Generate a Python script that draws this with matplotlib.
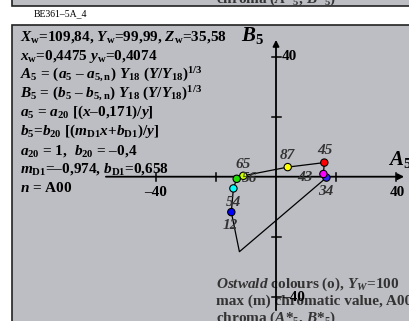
import matplotlib
matplotlib.use('Agg')
import matplotlib.pyplot as plt
from matplotlib.patches import Rectangle

plt.rcParams['font.family'] = 'Liberation Serif'
plt.rcParams['font.weight'] = 'bold'
plt.rcParams['mathtext.fontset'] = 'custom'
plt.rcParams['mathtext.rm'] = 'Liberation Serif:bold'
plt.rcParams['mathtext.it'] = 'Liberation Serif:italic:bold'
plt.rcParams['mathtext.bf'] = 'Liberation Serif:bold'

# hue circle points, A5 / B5 values
pt_a = [16.1, 3.9, -10.9, -13.1, -14.2, -14.9, 16.8, 15.8]
pt_b = [4.7, 3.2, 0.3, -0.7, -3.9, -11.8, -0.3, 0.9]
pt_col = ['#ff0000', '#ffff00', '#ccff00', '#22dd00', '#00ffff', '#0000ff', '#3322ee', '#ff00ff']

# outline through the points (incl. corner without marker)
line_a = [16.1, 3.9, -10.9, -13.1, -14.2, -14.9, -12.2, 16.8, 15.8, 16.1]
line_b = [4.7, 3.2, 0.3, -0.7, -3.9, -11.8, -25.0, -0.3, 0.9, 4.7]

lab_txt = ['45', '87', '65', '56', '43', '34', '54', '12']
lab_a = [16.3, 3.9, -10.9, -8.7, 9.7, 16.7, -14.2, -15.3]
lab_b = [8.7, 7.2, 4.2, -0.7, -0.4, -5.0, -8.7, -16.4]

ticks = [-40, -20, 20, 40]

info_lines = [
    r'$X_{\rm w}$=109,84, $Y_{\rm w}$=99,99, $Z_{\rm w}$=35,58',
    r'$x_{\rm w}$=0,4475 $y_{\rm w}$=0,4074',
    r'$A_5$ = ($a_5$ – $a_{5,\rm n}$) $Y_{18}$ ($Y$/$Y_{18})^{1/3}$',
    r'$B_5$ = ($b_5$ – $b_{5,\rm n}$) $Y_{18}$ ($Y$/$Y_{18})^{1/3}$',
    r'$a_5$ = $a_{20}$ [($x$–0,171)/$y$]',
    r'$b_5$=$b_{20}$ [($m_{\rm D1}x$+$b_{\rm D1}$)/$y$]',
    r'$a_{20}$ = 1,  $b_{20}$ = –0,4',
    r'$m_{\rm D1}$=–0,974, $b_{\rm D1}$=0,658',
    r'$n$ = A00',
]
foot_lines = [
    r'$Ostwald$ colours (o), $Y_W$=100',
    'max (m) chromatic value, A00',
    r'chroma ($A$*$_5$, $B$*$_5$)',
]

bg = '#bdbec3'
fs = 11
fig = plt.figure(figsize=(4.09, 3.21), dpi=100)
fig.patch.set_facecolor('white')

# page layer in pixel coordinates
pg = fig.add_axes([0, 0, 1, 1])
pg.set_xlim(0, 409)
pg.set_ylim(321, 0)
pg.axis('off')
pg.add_patch(Rectangle((12, -20), 420, 26, facecolor=bg, edgecolor='#222222', lw=1.2))
pg.add_patch(Rectangle((12, 25), 420, 320, facecolor=bg, edgecolor='#222222', lw=1.2))
pg.text(216, 2.5, foot_lines[2], fontsize=fs, color='#333333', va='baseline')
pg.text(60, 16.5, 'BE361–5A_4', fontsize=7, fontweight='normal', ha='center', va='baseline')
for i, s in enumerate(info_lines):
    pg.text(20, 40.7 + i * 18.9, s, fontsize=fs, va='baseline')

# chart layer in A5/B5 units
ax = fig.add_axes([0, 0, 1, 1])
ax.set_xlim(-92, 44.33)
ax.set_ylim(-48.1, 58.9)
ax.axis('off')
ax.patch.set_alpha(0)

ax.annotate('', xy=(42.7, 0), xytext=(-56.7, 0),
            arrowprops=dict(arrowstyle='-|>', lw=1.3, color='black', mutation_scale=9, shrinkA=0, shrinkB=0))
ax.annotate('', xy=(0, 45.6), xytext=(0, -44.5),
            arrowprops=dict(arrowstyle='-|>', lw=1.3, color='black', mutation_scale=9, shrinkA=0, shrinkB=0))
for t in ticks:
    ax.plot([t, t], [-1.4, 1.4], color='black', lw=1.1)
    ax.plot([-1.5, 1.5], [t, t], color='black', lw=1.1)

ax.text(-40, -5.1, '–40', fontsize=fs, ha='center', va='center')
ax.text(40.3, -5.1, '40', fontsize=fs, ha='center', va='center')
ax.text(2, 40, '40', fontsize=fs, ha='left', va='center')
ax.text(2, -40.4, '–40', fontsize=fs, ha='left', va='center')
ax.text(-7.7, 46.9, r'$B_5$', fontsize=15, ha='center', va='center')
ax.text(37.3, 5.6, r'$A_5$', fontsize=15, ha='left', va='center')

ax.plot(line_a, line_b, color='black', lw=0.9, zorder=3)
ax.scatter(pt_a, pt_b, s=28, c=pt_col, edgecolors='black', linewidths=0.8, zorder=4)
for s, a, b in zip(lab_txt, lab_a, lab_b):
    ax.text(a, b, s, fontsize=fs, style='italic', color='#333333', ha='center', va='center', zorder=5)

for i, s in enumerate(foot_lines):
    pg.text(216, 288.3 + i * 16.7, s, fontsize=fs, color='#333333', va='baseline', zorder=6)

fig.savefig('out.png', dpi=100, facecolor='white')
